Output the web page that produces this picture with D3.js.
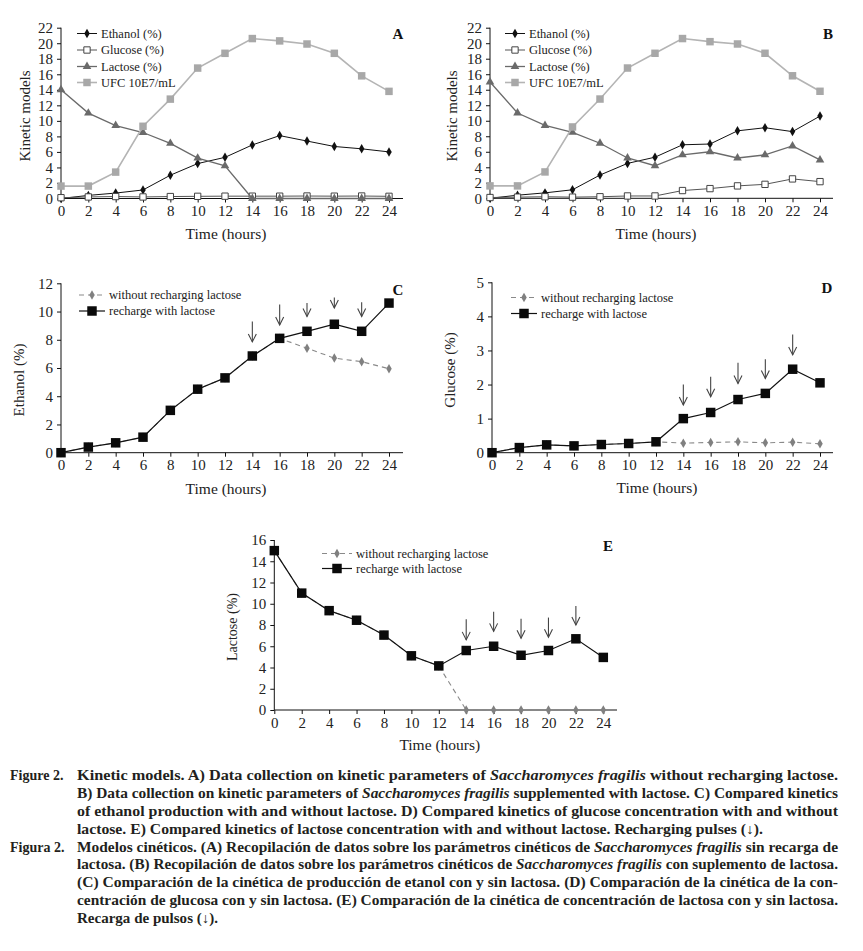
<!DOCTYPE html>
<html><head><meta charset="utf-8">
<script src="https://cdn.jsdelivr.net/npm/d3@7"></script>
<style>body{margin:0;background:#fff} svg{display:block}</style>
</head><body><svg id="fig" width="863" height="951"></svg>
<script>
// ---------- DATA ----------
const hours = [0,2,4,6,8,10,12,14,16,18,20,22,24];
const yTicksAB = [0,2,4,6,8,10,12,14,16,18,20,22];
const yTicksC = [0,2,4,6,8,10,12];
const yTicksD = [0,1,2,3,4,5];
const yTicksE = [0,2,4,6,8,10,12,14,16];

// Panel A: without recharging lactose
const ethanolA = [0,0.4,0.7,1.1,3.0,4.5,5.3,6.9,8.1,7.4,6.7,6.4,6.0];
const glucoseA = [0.1,0.2,0.25,0.2,0.25,0.28,0.3,0.3,0.3,0.32,0.3,0.32,0.28];
const lactoseA = [14,11.0,9.4,8.5,7.1,5.2,4.2,0,0,0,0,0,0];
const ufcA = [1.6,1.6,3.4,9.3,12.8,16.8,18.7,20.6,20.3,19.9,18.7,15.8,13.8];
// Panel B: supplemented with lactose
const ethanolB = [0,0.4,0.7,1.1,3.0,4.5,5.3,6.9,7.0,8.7,9.1,8.6,10.6];
const glucoseB = [0.1,0.15,0.2,0.15,0.2,0.3,0.3,1.0,1.25,1.6,1.8,2.5,2.15];
const lactoseB = [15,11.0,9.4,8.5,7.1,5.2,4.2,5.6,6.0,5.2,5.6,6.75,4.95];
const ufcB = [1.6,1.6,3.4,9.2,12.8,16.8,18.7,20.6,20.2,19.9,18.7,15.8,13.8];
// Panel C: ethanol
const ethanolWithout = [0,0.4,0.7,1.1,3.0,4.5,5.3,6.85,8.1,7.4,6.7,6.45,5.95];
const ethanolRecharge = [0,0.4,0.7,1.1,3.0,4.5,5.3,6.85,8.1,8.6,9.1,8.6,10.6];
// Panel D: glucose
const glucoseWithout = [0,0.15,0.23,0.2,0.24,0.27,0.32,0.28,0.3,0.32,0.29,0.31,0.26];
const glucoseRecharge = [0,0.15,0.23,0.2,0.24,0.27,0.32,1.0,1.18,1.56,1.74,2.45,2.05];
// Panel E: lactose
const lactoseWithout = [15,11.0,9.35,8.45,7.05,5.1,4.15,0,0,0,0,0,0];
const lactoseRecharge = [15,11.0,9.35,8.45,7.05,5.1,4.15,5.6,6.0,5.15,5.6,6.7,4.95];
// Recharging pulses (arrows): hour, tail value, tip value
const pulseHours = [14,16,18,20,22];
const arrowTailC = [9.3,10.5,10.6,11.0,10.65];
const arrowTipC = [7.85,9.05,9.65,10.25,9.65];
const arrowTailD = [2.0,2.23,2.64,2.74,3.47];
const arrowTipD = [1.4,1.64,2.03,2.18,2.87];
const arrowTailE = [8.55,9.25,8.6,8.7,9.8];
const arrowTipE = [6.6,7.4,6.75,6.85,8.0];

const legendAB = ["Ethanol (%)","Glucose (%)","Lactose (%)","UFC 10E7/mL"];
const legendCDE = ["without recharging lactose","recharge with lactose"];

// caption
const captionEN = [
  [["Kinetic models. A) Data collection on kinetic parameters of ",0],["Saccharomyces fragilis",1],[" without recharging lactose.",0]],
  [["B) Data collection on kinetic parameters of ",0],["Saccharomyces fragilis",1],[" supplemented with lactose. C) Compared kinetics",0]],
  [["of ethanol production with and without lactose. D) Compared kinetics of glucose concentration with and without",0]],
  [["lactose. E) Compared kinetics of lactose concentration with and without lactose. Recharging pulses (\u2193).",0]]
];
const captionES = [
  [["Modelos cinéticos. (A) Recopilación de datos sobre los parámetros cinéticos de ",0],["Saccharomyces fragilis",1],[" sin recarga de",0]],
  [["lactosa. (B) Recopilación de datos sobre los parámetros cinéticos de ",0],["Saccharomyces fragilis",1],[" con suplemento de lactosa.",0]],
  [["(C) Comparación de la cinética de producción de etanol con y sin lactosa. (D) Comparación de la cinética de la con-",0]],
  [["centración de glucosa con y sin lactosa. (E) Comparación de la cinética de concentración de lactosa con y sin lactosa.",0]],
  [["Recarga de pulsos (\u2193).",0]]
];

// ---------- DRAWING ----------
const svg = d3.select("#fig");
const SERIF = "'Liberation Serif', 'DejaVu Serif', serif";
svg.append("rect").attr("width",863).attr("height",951).attr("fill","#fff");

function makePanel(o){
  const g = svg.append("g");
  const x = d3.scaleLinear().domain([0,24]).range([o.x0,o.x1]);
  const y = d3.scaleLinear().domain([0,o.yMax]).range([o.y0,o.y1]);
  const xa = g.append("g").attr("transform",`translate(0,${o.y0})`)
    .call(d3.axisBottom(x).tickValues(hours).tickSize(4).tickPadding(3).tickFormat(d3.format("d")));
  const ya = g.append("g").attr("transform",`translate(${o.x0},0)`)
    .call(d3.axisLeft(y).tickValues(o.yTicks).tickSize(4).tickPadding(4).tickFormat(d3.format("d")));
  [xa,ya].forEach(a=>{
    a.select(".domain").remove();
    a.selectAll("line").attr("stroke","#111").attr("stroke-width",1);
    a.selectAll("text").attr("font-family",SERIF).attr("font-size",15).attr("fill","#222");
  });
  g.append("line").attr("x1",o.x0).attr("x2",o.xEnd).attr("y1",o.y0).attr("y2",o.y0).attr("stroke","#111");
  g.append("line").attr("x1",o.x0).attr("x2",o.x0).attr("y1",o.y0).attr("y2",y(o.yMax)).attr("stroke","#111");
  g.append("text").attr("x",(o.x0+o.x1)/2+1).attr("y",o.xlabelY).attr("text-anchor","middle")
    .attr("font-family",SERIF).attr("font-size",15.5).attr("fill","#222").text("Time (hours)");
  g.append("text").attr("transform",`translate(${o.ylabelX},${o.ylabelY}) rotate(-90)`).attr("text-anchor","middle")
    .attr("font-family",SERIF).attr("font-size",o.ylabelSize||15).attr("fill","#222").text(o.ylabel);
  g.append("text").attr("x",o.letterX).attr("y",o.letterY).attr("text-anchor","middle")
    .attr("font-family",SERIF).attr("font-size",15).attr("font-weight","bold").attr("fill","#111").text(o.letter);
  return {g,x,y};
}

const sym = {
  diamond: (s)=>d3.symbol(d3.symbolDiamond, s)(),
  square: (s)=>d3.symbol(d3.symbolSquare, s)(),
  triangle: (s)=>d3.symbol(d3.symbolTriangle, s)()
};

function drawSeries(p, vals, st){
  const data = hours.map((h,i)=>({h, v: vals[i]}));
  const line = d3.line().x(d=>p.x(d.h)).y(d=>p.y(d.v));
  p.g.append("path").datum(data).attr("d",line).attr("fill","none")
    .attr("stroke",st.line).attr("stroke-width",st.lw).attr("stroke-dasharray",st.dash||null);
  p.g.selectAll(null).data(data).enter().append("path")
    .attr("transform",d=>`translate(${p.x(d.h)},${p.y(d.v)})`)
    .attr("d",sym[st.shape](st.size)).attr("fill",st.fill)
    .attr("stroke",st.stroke||"none").attr("stroke-width",st.sw||1);
}

function legendItem(g, x1, x2, yy, label, st, tx){
  g.append("line").attr("x1",x1).attr("x2",x2).attr("y1",yy).attr("y2",yy)
    .attr("stroke",st.line).attr("stroke-width",st.lw).attr("stroke-dasharray",st.dash||null);
  g.append("path").attr("transform",`translate(${(x1+x2)/2},${yy})`).attr("d",sym[st.shape](st.size))
    .attr("fill",st.fill).attr("stroke",st.stroke||"none").attr("stroke-width",st.sw||1);
  g.append("text").attr("x",tx).attr("y",yy+4).attr("font-family",SERIF).attr("font-size",12.5)
    .attr("fill","#222").text(label);
}

function drawArrows(p, tails, tips){
  pulseHours.forEach((h,i)=>{
    const ax = p.x(h), t0 = p.y(tails[i]), t1 = p.y(tips[i]);
    const ag = p.g.append("g").attr("stroke","#444").attr("stroke-width",1.1).attr("fill","none");
    ag.append("line").attr("x1",ax).attr("x2",ax).attr("y1",t0).attr("y2",t1);
    ag.append("path").attr("d",`M${ax-4},${t1-8}L${ax},${t1}L${ax+4},${t1-8}`);
  });
}

const stEth = {line:"#111",lw:1,shape:"diamond",size:26,fill:"#111"};
const stGlu = {line:"#555",lw:1,shape:"square",size:40,fill:"#fff",stroke:"#444",sw:1};
const stLac = {line:"#6a6a6a",lw:1.3,shape:"triangle",size:32,fill:"#6a6a6a"};
const stUfc = {line:"#b4b4b4",lw:1.6,shape:"square",size:56,fill:"#a8a8a8"};
const stNo = {line:"#8a8a8a",lw:1.1,dash:"5,4",shape:"diamond",size:26,fill:"#808080"};
const stRe = {line:"#111",lw:1.2,shape:"square",size:90,fill:"#0a0a0a"};

// Panel A
const pA = makePanel({x0:61,x1:389,xEnd:403,y0:198.5,y1:27.7,yMax:22,yTicks:yTicksAB,
  xlabelY:239,ylabel:"Kinetic models",ylabelX:30,ylabelY:116,letter:"A",letterX:398,letterY:39});
[[ethanolA,stEth],[glucoseA,stGlu],[lactoseA,stLac],[ufcA,stUfc]].forEach(([v,s])=>drawSeries(pA,v,s));
legendAB.forEach((l,i)=>legendItem(pA.g,77,97,[33.5,50,66.5,82.5][i],l,[stEth,stGlu,stLac,stUfc][i],101));

// Panel B
const pB = makePanel({x0:490,x1:820,xEnd:833,y0:198.3,y1:27.7,yMax:22,yTicks:yTicksAB,
  xlabelY:239,ylabel:"Kinetic models",ylabelX:457,ylabelY:116,letter:"B",letterX:828,letterY:39});
[[ethanolB,stEth],[glucoseB,stGlu],[lactoseB,stLac],[ufcB,stUfc]].forEach(([v,s])=>drawSeries(pB,v,s));
legendAB.forEach((l,i)=>legendItem(pB.g,505,525,[33.5,50,66.5,82.5][i],l,[stEth,stGlu,stLac,stUfc][i],529));

// Panel C
const pC = makePanel({x0:61,x1:389,xEnd:403,y0:452.7,y1:283.3,yMax:12,yTicks:yTicksC,
  xlabelY:494,ylabel:"Ethanol (%)",ylabelX:24,ylabelY:380,letter:"C",letterX:398,letterY:295});
drawSeries(pC,ethanolWithout,stNo); drawSeries(pC,ethanolRecharge,stRe);
drawArrows(pC,arrowTailC,arrowTipC);
legendCDE.forEach((l,i)=>legendItem(pC.g,79,105,[295,311][i],l,[stNo,stRe][i],109));

// Panel D
const pD = makePanel({x0:492,x1:820,xEnd:833,y0:452.7,y1:282.3,yMax:5,yTicks:yTicksD,
  xlabelY:493,ylabel:"Glucose (%)",ylabelX:455,ylabelY:370,letter:"D",letterX:827,letterY:293});
drawSeries(pD,glucoseWithout,stNo); drawSeries(pD,glucoseRecharge,stRe);
drawArrows(pD,arrowTailD,arrowTipD);
legendCDE.forEach((l,i)=>legendItem(pD.g,511,537,[297.5,313.5][i],l,[stNo,stRe][i],541));

// Panel E
const pE = makePanel({x0:274.3,x1:603.3,xEnd:617,y0:710,y1:540,yMax:16,yTicks:yTicksE,
  xlabelY:750,ylabel:"Lactose (%)",ylabelX:237,ylabelY:627,ylabelSize:14,letter:"E",letterX:608,letterY:551});
drawSeries(pE,lactoseWithout,stNo); drawSeries(pE,lactoseRecharge,stRe);
drawArrows(pE,arrowTailE,arrowTipE);
legendCDE.forEach((l,i)=>legendItem(pE.g,322,352,[553.5,568.5][i],l,[stNo,stRe][i],356));

// Caption
const capG = svg.append("g").attr("font-family",SERIF).attr("font-size",14).attr("font-weight","bold").attr("fill","#231f20");
function capLine(segs, x, yy, width){
  const t = capG.append("text").attr("x",x).attr("y",yy);
  segs.forEach(([s,it])=>t.append("tspan").attr("font-style",it?"italic":null).text(s));
  if(width) t.attr("textLength",width).attr("lengthAdjust","spacingAndGlyphs");
}
capG.append("text").attr("x",10).attr("y",780).text("Figure 2.");
const enY = [780,798,816,833.5];
const enEnd = [838,838,838,763];
captionEN.forEach((segs,i)=>capLine(segs,77,enY[i],enEnd[i]-77));
capG.append("text").attr("x",10).attr("y",851.5).text("Figura 2.");
const esY = [851.5,869,887,905,922.5];
const esEnd = [838,838,838,838,218];
captionES.forEach((segs,i)=>capLine(segs,77,esY[i],esEnd[i]-77));
</script></body></html>
